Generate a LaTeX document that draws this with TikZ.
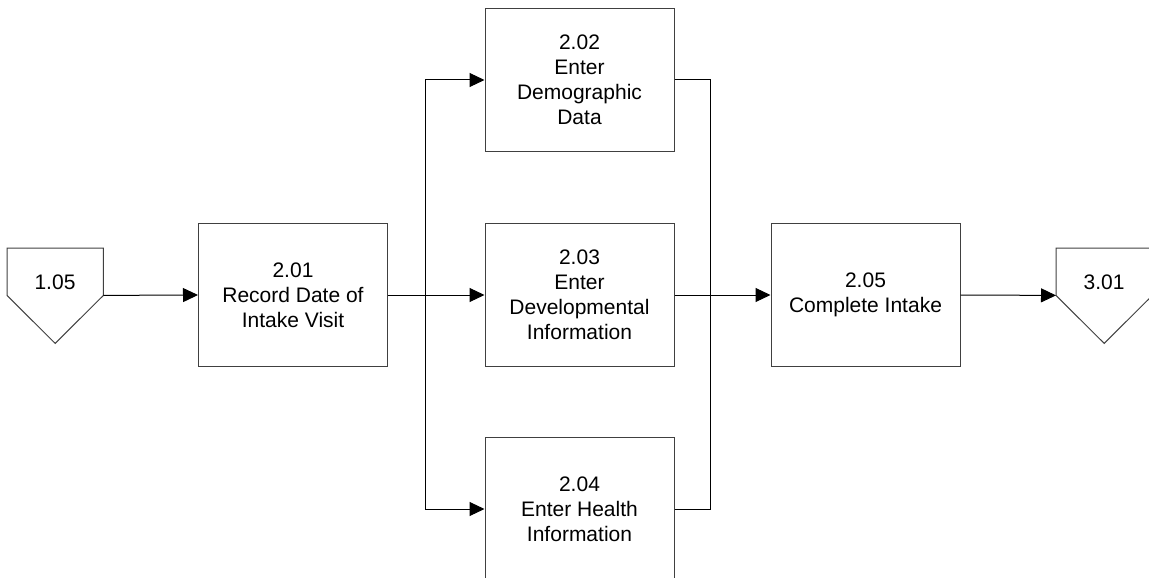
\documentclass[tikz,border=0pt]{standalone}
\usepackage{fontspec}
\setmainfont{Liberation Sans}
\usetikzlibrary{arrows.meta,calc}

\tikzset{
  procbox/.style={draw=black!75, line width=1pt, minimum width=189pt, minimum height=143pt,
    inner sep=0pt, align=center, font=\fontsize{21}{25}\selectfont},
  offbody/.style={minimum width=96pt, minimum height=47pt, inner sep=0pt, anchor=north west},
  offtext/.style={inner sep=0pt, font=\fontsize{21}{25}\selectfont},
  offline/.style={draw=black!75, line width=1pt, line join=miter},
  flow/.style={draw=black, line width=1pt, -{Triangle[length=15pt,width=14pt]}},
  link/.style={draw=black, line width=1pt},
}

\begin{document}
\begin{tikzpicture}[x=1pt, y=-1pt]
  \useasboundingbox (0,0) rectangle (1149,578);
  \clip (0,0) rectangle (1149,578);

  % off-page connectors (pentagons pointing down)
  \node[offbody] (c105) at (7,248) {};
  \draw[offline] (c105.north west) -- (c105.north east) -- (c105.south east)
     -- ($(c105.south)+(0,48)$) -- (c105.south west) -- cycle;
  \node[offtext] (t105) at (55,282) {1.05};

  \node[offbody] (c301) at (1056,248) {};
  \draw[offline] (c301.north west) -- (c301.north east) -- (c301.south east)
     -- ($(c301.south)+(0,48)$) -- (c301.south west) -- cycle;
  \node[offtext] (t301) at (1104,282) {3.01};

  % process steps
  \node[procbox] (b201) at (293,295) {2.01\\Record Date of\\Intake Visit};
  \node[procbox] (b202) at (579.5,80) {2.02\\Enter\\Demographic\\Data};
  \node[procbox] (b203) at (579.5,295) {2.03\\Enter\\Developmental\\Information};
  \node[procbox] (b204) at (579.5,509) {2.04\\Enter Health\\Information};
  \node[procbox] (b205) at (865.5,295) {2.05\\Complete Intake};

  % split and join points
  \coordinate (split) at (425,295);
  \coordinate (join) at (710.5,295);

  % connectors
  \draw[flow] (c105.south east) -- (b201.west);
  \draw[flow] (b201.east) -- (b203.west);
  \draw[link] (split |- b202.west) -- (split |- b204.west);
  \draw[flow] (split |- b202.west) -- (b202.west);
  \draw[flow] (split |- b204.west) -- (b204.west);
  \draw[link] (b202.east) -| (join);
  \draw[link] (b204.east) -| (join);
  \draw[flow] (b203.east) -- (b205.west);
  \draw[flow] (b205.east) -- (c301.south west);
\end{tikzpicture}
\end{document}
